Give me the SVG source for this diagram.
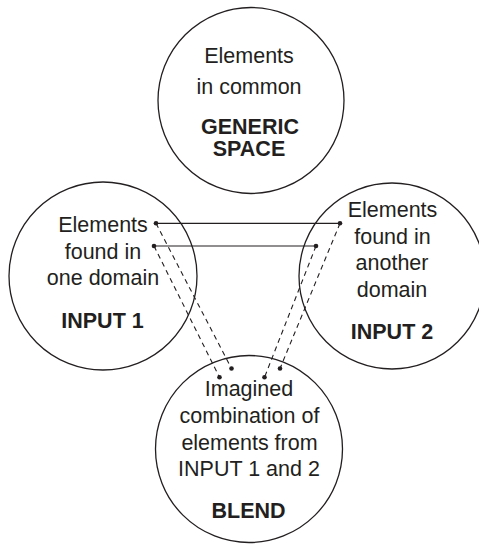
<svg xmlns="http://www.w3.org/2000/svg" width="479" height="544" viewBox="0 0 479 544">
<style>
.c{fill:none;stroke:#231f20;stroke-width:1.3}
.t{font-family:"Liberation Sans",Arial,sans-serif;font-size:21.5px;fill:#231f20;text-anchor:middle}
.b{font-weight:bold}
.s{stroke:#231f20;stroke-width:1.2;fill:none}
.d{stroke:#231f20;stroke-width:1.1;fill:none;stroke-dasharray:5 4}
.p{fill:#231f20}
</style>
<rect width="479" height="544" fill="#ffffff"/>
<g id="generic">
<circle class="c" cx="251" cy="100.5" r="93"/>
<text class="t" x="249" y="63">Elements</text>
<text class="t" x="249" y="94">in common</text>
<text class="t b" x="250" y="134">GENERIC</text>
<text class="t b" x="249" y="156">SPACE</text>
</g>
<g id="input1">
<circle class="c" cx="103" cy="276" r="94"/>
<text class="t" x="103" y="231.5">Elements</text>
<text class="t" x="103" y="258.5">found in</text>
<text class="t" x="103" y="285">one domain</text>
<text class="t b" x="102.5" y="327.5">INPUT 1</text>
</g>
<g id="input2">
<circle class="c" cx="392" cy="276" r="93"/>
<text class="t" x="392.5" y="216.5">Elements</text>
<text class="t" x="392.5" y="243.5">found in</text>
<text class="t" x="392" y="270">another</text>
<text class="t" x="392" y="297">domain</text>
<text class="t b" x="392" y="339">INPUT 2</text>
</g>
<g id="blend">
<circle class="c" cx="249" cy="449" r="93.5"/>
<text class="t" x="249" y="396">Imagined</text>
<text class="t" x="249.5" y="423">combination of</text>
<text class="t" x="249.5" y="450">elements from</text>
<text class="t" x="249" y="476">INPUT 1 and 2</text>
<text class="t b" x="248.5" y="517.5">BLEND</text>
</g>
<g id="connectors">
<line class="s" x1="156" y1="223.3" x2="340" y2="223.3"/>
<line class="s" x1="154" y1="246" x2="316" y2="246"/>
<line class="d" x1="156" y1="223.3" x2="231.5" y2="368.5"/>
<line class="d" x1="154" y1="246" x2="219.5" y2="377.3"/>
<line class="d" x1="340" y1="223.3" x2="280" y2="368.5"/>
<line class="d" x1="316" y1="246" x2="264.5" y2="377.3"/>
<circle class="p" cx="156" cy="223.3" r="2.3"/>
<circle class="p" cx="154" cy="246" r="2.3"/>
<circle class="p" cx="340" cy="223.3" r="2.3"/>
<circle class="p" cx="316" cy="246" r="2.3"/>
<circle class="p" cx="231.5" cy="368.5" r="2.3"/>
<circle class="p" cx="219.5" cy="377.3" r="2.3"/>
<circle class="p" cx="280" cy="368.5" r="2.3"/>
<circle class="p" cx="264.5" cy="377.3" r="2.3"/>
</g>
</svg>
